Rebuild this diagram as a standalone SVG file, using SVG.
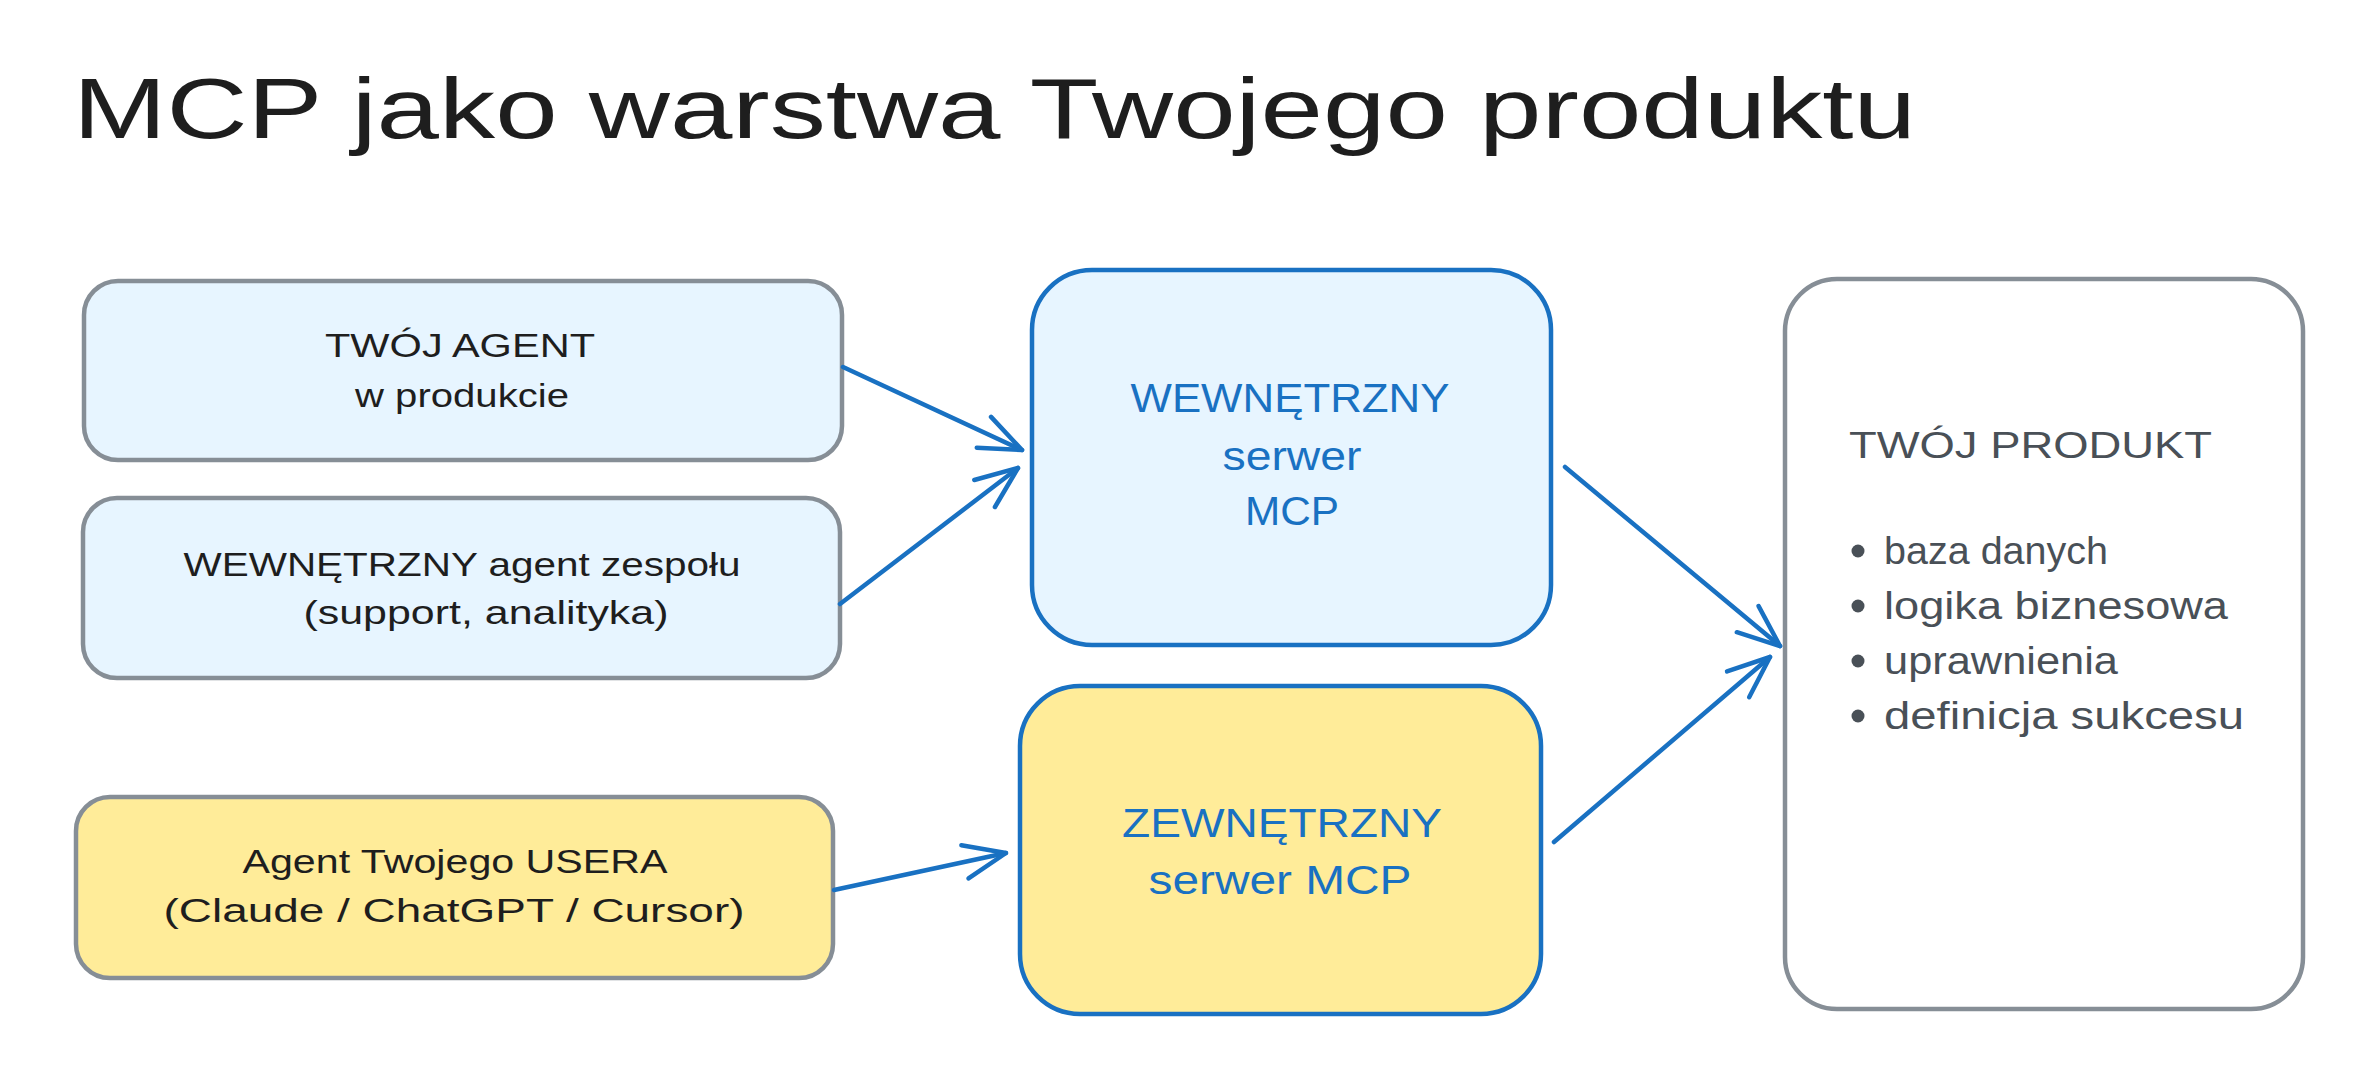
<svg xmlns="http://www.w3.org/2000/svg" width="2380" height="1072" viewBox="0 0 2380 1072">
<defs>
<style>
.t{font-family:"Liberation Sans","DejaVu Sans",sans-serif;fill:#1e1e1e}
.bx{stroke:#868e96;stroke-width:4.5;stroke-linejoin:round}
.bl{stroke:#1971c2;stroke-width:4.5}
.fb{fill:#e7f5ff}
.fy{fill:#ffec99}
.blue{fill:#1971c2}
.prod{fill:#495057}
.con{fill:none;stroke:#1971c2;stroke-width:4.5;stroke-linecap:round}
</style>
<marker id="ah" markerUnits="userSpaceOnUse" markerWidth="56" markerHeight="50" refX="46" refY="22" orient="auto" viewBox="0 0 56 44">
<path d="M4,5 L46,22 L4,39" fill="none" stroke="#1971c2" stroke-width="4.5" stroke-linecap="round" stroke-linejoin="round"/>
</marker>
</defs>
<rect width="2380" height="1072" fill="#ffffff"/>
<text class="t" x="73" y="138" font-size="86" textLength="1843" lengthAdjust="spacingAndGlyphs">MCP jako warstwa Twojego produktu</text>

<g id="twoj-agent">
<rect class="bx fb" x="84" y="281" width="758" height="179" rx="34"/>
<text class="t" x="460" y="357" font-size="33" text-anchor="middle" textLength="270" lengthAdjust="spacingAndGlyphs">TWÓJ AGENT</text>
<text class="t" x="462" y="407" font-size="33" text-anchor="middle" textLength="214" lengthAdjust="spacingAndGlyphs">w produkcie</text>
</g>

<g id="agent-zespolu">
<rect class="bx fb" x="83" y="498" width="757" height="180" rx="34"/>
<text class="t" x="462" y="576" font-size="33" text-anchor="middle" textLength="557" lengthAdjust="spacingAndGlyphs">WEWNĘTRZNY agent zespołu</text>
<text class="t" x="486" y="624" font-size="33" text-anchor="middle" textLength="365" lengthAdjust="spacingAndGlyphs">(support, analityka)</text>
</g>

<g id="agent-usera">
<rect class="bx fy" x="76" y="797" width="757" height="181" rx="34"/>
<text class="t" x="455" y="873" font-size="33" text-anchor="middle" textLength="425" lengthAdjust="spacingAndGlyphs">Agent Twojego USERA</text>
<text class="t" x="454" y="922" font-size="33" text-anchor="middle" textLength="581" lengthAdjust="spacingAndGlyphs">(Claude / ChatGPT / Cursor)</text>
</g>

<g id="serwer-wewnetrzny">
<rect class="bl fb" x="1032" y="270" width="519" height="375" rx="60"/>
<text class="t blue" x="1290" y="412" font-size="40" text-anchor="middle" textLength="319" lengthAdjust="spacingAndGlyphs">WEWNĘTRZNY</text>
<text class="t blue" x="1292" y="470" font-size="40" text-anchor="middle" textLength="139" lengthAdjust="spacingAndGlyphs">serwer</text>
<text class="t blue" x="1292" y="525" font-size="40" text-anchor="middle" textLength="94" lengthAdjust="spacingAndGlyphs">MCP</text>
</g>

<g id="serwer-zewnetrzny">
<rect class="bl fy" x="1020" y="686" width="521" height="328" rx="60"/>
<text class="t blue" x="1282" y="837" font-size="40" text-anchor="middle" textLength="320" lengthAdjust="spacingAndGlyphs">ZEWNĘTRZNY</text>
<text class="t blue" x="1280" y="894" font-size="40" text-anchor="middle" textLength="263" lengthAdjust="spacingAndGlyphs">serwer MCP</text>
</g>

<g id="twoj-produkt">
<rect class="bx" fill="#ffffff" x="1785" y="279" width="518" height="730" rx="52"/>
<text class="t prod" x="1849" y="458" font-size="37" textLength="363" lengthAdjust="spacingAndGlyphs">TWÓJ PRODUKT</text>
<circle class="prod" cx="1858" cy="551" r="6.5"/>
<circle class="prod" cx="1858" cy="606" r="6.5"/>
<circle class="prod" cx="1858" cy="661" r="6.5"/>
<circle class="prod" cx="1858" cy="716" r="6.5"/>
<text class="t prod" x="1884" y="564" font-size="38" textLength="224" lengthAdjust="spacingAndGlyphs">baza danych</text>
<text class="t prod" x="1884" y="619" font-size="38" textLength="344" lengthAdjust="spacingAndGlyphs">logika biznesowa</text>
<text class="t prod" x="1884" y="674" font-size="38" textLength="234" lengthAdjust="spacingAndGlyphs">uprawnienia</text>
<text class="t prod" x="1884" y="729" font-size="38" textLength="360" lengthAdjust="spacingAndGlyphs">definicja sukcesu</text>
</g>

<g id="connectors">
<path class="con" d="M843,367 L1022,450" marker-end="url(#ah)"/>
<path class="con" d="M840,604 L1018,468" marker-end="url(#ah)"/>
<path class="con" d="M834,890 L1006,853" marker-end="url(#ah)"/>
<path class="con" d="M1565,467 L1780,646" marker-end="url(#ah)"/>
<path class="con" d="M1554,842 L1770,657" marker-end="url(#ah)"/>
</g>
</svg>
